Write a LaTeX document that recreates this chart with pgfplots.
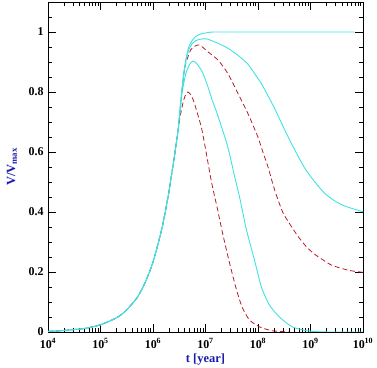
\documentclass[border=0pt]{standalone}
\usepackage{fontspec}
\setmainfont{Liberation Serif}
\usepackage{pgfplots}
\pgfplotsset{compat=1.18}
\definecolor{cy}{RGB}{64,226,226}
\definecolor{dred}{RGB}{185,25,40}
\definecolor{lblue}{RGB}{25,25,175}
\begin{document}
\begin{tikzpicture}
\begin{axis}[
  scale only axis, width=315bp, height=330bp,
  xmode=log, xmin=1e4, xmax=1e10, ymin=0, ymax=1.1,
  xtick={1e4,1e5,1e6,1e7,1e8,1e9,1e10},
  xticklabels={\textbf{10\textsuperscript{4}},\textbf{10\textsuperscript{5}},\textbf{10\textsuperscript{6}},\textbf{10\textsuperscript{7}},\textbf{10\textsuperscript{8}},\textbf{10\textsuperscript{9}},\textbf{10\textsuperscript{10}}},
  minor xtick={2e4,3e4,4e4,5e4,6e4,7e4,8e4,9e4,2e5,3e5,4e5,5e5,6e5,7e5,8e5,9e5,2e6,3e6,4e6,5e6,6e6,7e6,8e6,9e6,2e7,3e7,4e7,5e7,6e7,7e7,8e7,9e7,2e8,3e8,4e8,5e8,6e8,7e8,8e8,9e8,2e9,3e9,4e9,5e9,6e9,7e9,8e9,9e9},
  ytick={0,0.2,0.4,0.6,0.8,1},
  yticklabels={\textbf{0},\textbf{0.2},\textbf{0.4},\textbf{0.6},\textbf{0.8},\textbf{1}},
  minor ytick={0.05,0.1,0.15,0.25,0.3,0.35,0.45,0.5,0.55,0.65,0.7,0.75,0.85,0.9,0.95,1.05},
  tick align=inside, major tick length=8bp, minor tick length=4bp,
  every tick/.style={black, line width=0.6bp},
  axis line style={line width=0.8bp},
  tick label style={font=\fontsize{12}{14}\selectfont},
  xticklabel style={yshift=-3bp},
  yticklabel style={xshift=-1bp},
  xlabel={\textbf{t [year]}}, ylabel={\textbf{V/V\textsubscript{max}}},
  every axis x label/.style={at={(axis description cs:0.5,-0.0848)}, anchor=center, color=lblue, font=\fontsize{12.5}{14}\selectfont},
  every axis y label/.style={at={(axis description cs:-0.1146,0.5)}, anchor=center, rotate=90, color=lblue, font=\fontsize{12.5}{14}\selectfont},
  clip=true,
]
% small dashed
\addplot[dred, line width=0.8bp, dash pattern=on 5bp off 3bp, smooth, tension=0.4] coordinates {
(1e4,0.002) (2e4,0.005) (5e4,0.012) (1e5,0.024) (2e5,0.047) (3e5,0.07) (5e5,0.115) (7e5,0.163) (1e6,0.233) (1.5e6,0.35) (2e6,0.465) (2.5e6,0.575) (3e6,0.67)
(3.3e6,0.72) (3.8e6,0.77) (4.2e6,0.792) (4.6e6,0.80) (5.3e6,0.79) (6.2e6,0.76) (8.4e6,0.68) (1.05e7,0.59) (1.3e7,0.50) (1.69e7,0.41) (2.11e7,0.33) (2.87e7,0.23) (3.9e7,0.14) (5.07e7,0.08) (6.89e7,0.04) (1.07e8,0.017) (1.89e8,0.004) (4e8,0.0)};
% small cyan
\addplot[cy, line width=0.9bp, smooth, tension=0.4] coordinates {
(1e4,0.002) (2e4,0.005) (5e4,0.012) (1e5,0.024) (2e5,0.047) (3e5,0.07) (5e5,0.115) (7e5,0.163) (1e6,0.233) (1.5e6,0.35) (2e6,0.465) (2.5e6,0.575) (3e6,0.67)
(3.3e6,0.74) (3.6e6,0.80) (4.2e6,0.86) (4.9e6,0.89) (5.7e6,0.903) (6.8e6,0.895) (8.8e6,0.865) (1.11e7,0.818) (1.36e7,0.77) (1.69e7,0.725) (2.63e7,0.62) (3.57e7,0.52) (4.45e7,0.45) (6.04e7,0.34) (8.57e7,0.24) (1.16e8,0.15) (1.65e8,0.09) (2.56e8,0.05) (4.53e8,0.017) (9.5e8,0.003) (2.3e9,0.0) (1e10,0.0)};
% big dashed
\addplot[dred, line width=0.8bp, dash pattern=on 5bp off 3bp, smooth, tension=0.4] coordinates {
(1e4,0.002) (2e4,0.005) (5e4,0.012) (1e5,0.024) (2e5,0.047) (3e5,0.07) (5e5,0.115) (7e5,0.163) (1e6,0.233) (1.5e6,0.35) (2e6,0.465) (2.5e6,0.575) (3e6,0.67)
(3.3e6,0.745) (3.8e6,0.85) (4.2e6,0.895) (5.2e6,0.94) (6.2e6,0.952) (7.7e6,0.957) (1.11e7,0.934) (1.72e7,0.907) (2.66e7,0.862) (4.13e7,0.796) (6.4e7,0.729) (9.9e7,0.651) (1.22e8,0.603) (1.54e8,0.552) (1.89e8,0.497) (2.25e8,0.455) (3.02e8,0.396) (4.35e8,0.351) (5.82e8,0.318) (8.37e8,0.284) (1.2e9,0.259) (1.74e9,0.24) (2.51e9,0.223) (3.88e9,0.212) (6.02e9,0.204) (1e10,0.199)};
% big cyan
\addplot[cy, line width=0.9bp, smooth, tension=0.4] coordinates {
(1e4,0.002) (2e4,0.005) (5e4,0.012) (1e5,0.024) (2e5,0.047) (3e5,0.07) (5e5,0.115) (7e5,0.163) (1e6,0.233) (1.5e6,0.35) (2e6,0.465) (2.5e6,0.575) (3e6,0.67)
(3.3e6,0.75) (3.8e6,0.85) (4.3e6,0.91) (4.8e6,0.94) (5.5e6,0.96) (6.5e6,0.971) (8e6,0.976) (1.05e7,0.977) (1.69e7,0.963) (2.66e7,0.946) (4.1e7,0.923) (6.4e7,0.893) (1.15e8,0.829) (1.35e8,0.807) (2.06e8,0.746) (3.24e8,0.673) (5.01e8,0.607) (7.78e8,0.546) (1.2e9,0.501) (1.87e9,0.462) (2.89e9,0.437) (4.48e9,0.42) (6.95e9,0.409) (1e10,0.401)};
% flat cyan
\addplot[cy, line width=0.9bp, smooth, tension=0.4] coordinates {
(1e4,0.002) (2e4,0.005) (5e4,0.012) (1e5,0.024) (2e5,0.047) (3e5,0.07) (5e5,0.115) (7e5,0.163) (1e6,0.233) (1.5e6,0.35) (2e6,0.465) (2.5e6,0.575) (3e6,0.67)
(3.3e6,0.75) (3.8e6,0.855) (4.3e6,0.915) (4.8e6,0.95) (5.5e6,0.97) (6.5e6,0.985) (8e6,0.993) (1.1e7,0.998) (1.5e7,1.0) (1e8,1.0) (7e9,1.0)};
\end{axis}
\pgfresetboundingbox
\path ([shift={(-48bp,-36bp)}]current axis.south west) rectangle ([shift={(14bp,2bp)}]current axis.north east);
\end{tikzpicture}
\end{document}
